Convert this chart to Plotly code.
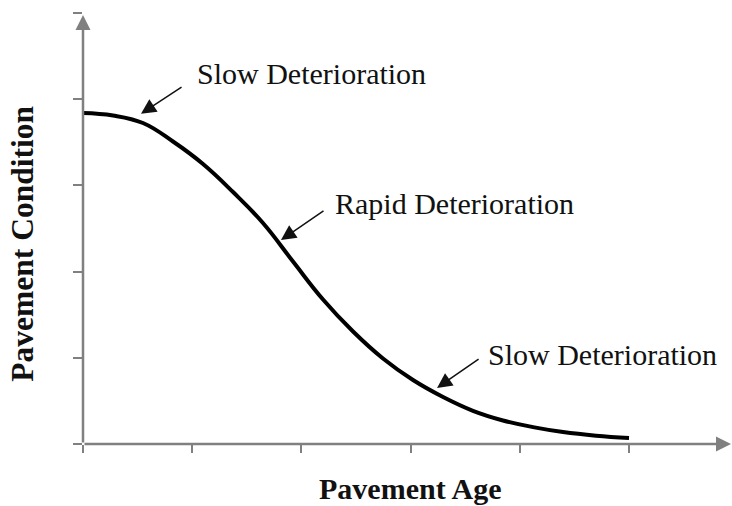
import plotly.graph_objects as go

# Pavement condition deterioration curve
age = [0.0, 0.275, 0.549, 0.824, 1.099, 1.374, 1.648, 1.923, 2.198, 2.473,
       2.747, 3.022, 3.297, 3.571, 3.846, 4.121, 4.396, 4.698, 5.0]
condition = [3.840, 3.811, 3.724, 3.509, 3.248, 2.923, 2.564, 2.117, 1.676, 1.305,
             0.992, 0.742, 0.545, 0.385, 0.273, 0.196, 0.139, 0.097, 0.070]

x_ticks = [0, 1, 2, 3, 4, 5]
y_ticks = [0, 1, 2, 3, 4, 5]

labels = ["Slow Deterioration", "Rapid Deterioration", "Slow Deterioration"]
label_pos = [(1.03, 4.30), (2.29, 2.79), (3.69, 1.04)]
arrow_tips = [(0.531, 3.83), (1.813, 2.367), (3.242, 0.650)]
arrow_tails = [(0.916, 4.153), (2.216, 2.715), (3.636, 0.998)]

X_MAX = 5.934
Y_MAX = 5.0
FONT = "Times New Roman, Liberation Serif, serif"
GRAY = "#808080"
INK = "#111111"

fig = go.Figure()
fig.add_trace(go.Scatter(
    x=age, y=condition, mode="lines",
    line=dict(color="black", width=4, shape="spline", smoothing=1.2),
    hoverinfo="skip", showlegend=False, cliponaxis=False,
))

annotations = []
# axis arrows
annotations.append(dict(x=X_MAX, y=0, ax=0, ay=0, xref="x", yref="y", axref="x", ayref="y",
                        text="", showarrow=True, arrowhead=2, arrowsize=1.2, arrowwidth=2.5,
                        arrowcolor=GRAY, standoff=0, startstandoff=0))
annotations.append(dict(x=0, y=4.977, ax=0, ay=0, xref="x", yref="y", axref="x", ayref="y",
                        text="", showarrow=True, arrowhead=2, arrowsize=1.2, arrowwidth=2.5,
                        arrowcolor=GRAY, standoff=0, startstandoff=0))
# label arrows
for (tx, ty), (sx, sy) in zip(arrow_tips, arrow_tails):
    annotations.append(dict(x=tx, y=ty, ax=sx, ay=sy, xref="x", yref="y", axref="x", ayref="y",
                            text="", showarrow=True, arrowhead=2, arrowsize=2.0, arrowwidth=1.5,
                            arrowcolor=INK, standoff=0))
# label texts
for txt, (lx, ly) in zip(labels, label_pos):
    annotations.append(dict(x=lx, y=ly, xref="x", yref="y", text=txt, showarrow=False,
                            xanchor="left", yanchor="middle",
                            font=dict(family=FONT, size=30, color=INK)))
# axis titles
annotations.append(dict(x=0.5046, y=-0.1044, xref="paper", yref="paper", text="<b>Pavement Age</b>",
                        showarrow=False, xanchor="center", yanchor="middle",
                        font=dict(family=FONT, size=30, color=INK)))
annotations.append(dict(x=-0.094, y=0.465, xref="paper", yref="paper", text="<b>Pavement Condition</b>",
                        showarrow=False, xanchor="center", yanchor="middle", textangle=-90,
                        font=dict(family=FONT, size=31.5, color=INK)))

fig.update_layout(
    width=732, height=506,
    margin=dict(l=83, r=1, t=13, b=62),
    paper_bgcolor="white", plot_bgcolor="white",
    annotations=annotations,
    xaxis=dict(range=[0, X_MAX], showgrid=False, zeroline=False, showline=False,
               tickmode="array", tickvals=x_ticks, ticks="outside", ticklen=8, tickwidth=2,
               tickcolor=GRAY, showticklabels=False, fixedrange=True),
    yaxis=dict(range=[0, Y_MAX], showgrid=False, zeroline=False, showline=False,
               tickmode="array", tickvals=y_ticks, ticks="outside", ticklen=9, tickwidth=2,
               tickcolor=GRAY, showticklabels=False, fixedrange=True),
)

fig.write_html("out.html", config={"displayModeBar": False},
               post_script="document.body.style.margin='0';document.body.style.overflow='hidden';")
